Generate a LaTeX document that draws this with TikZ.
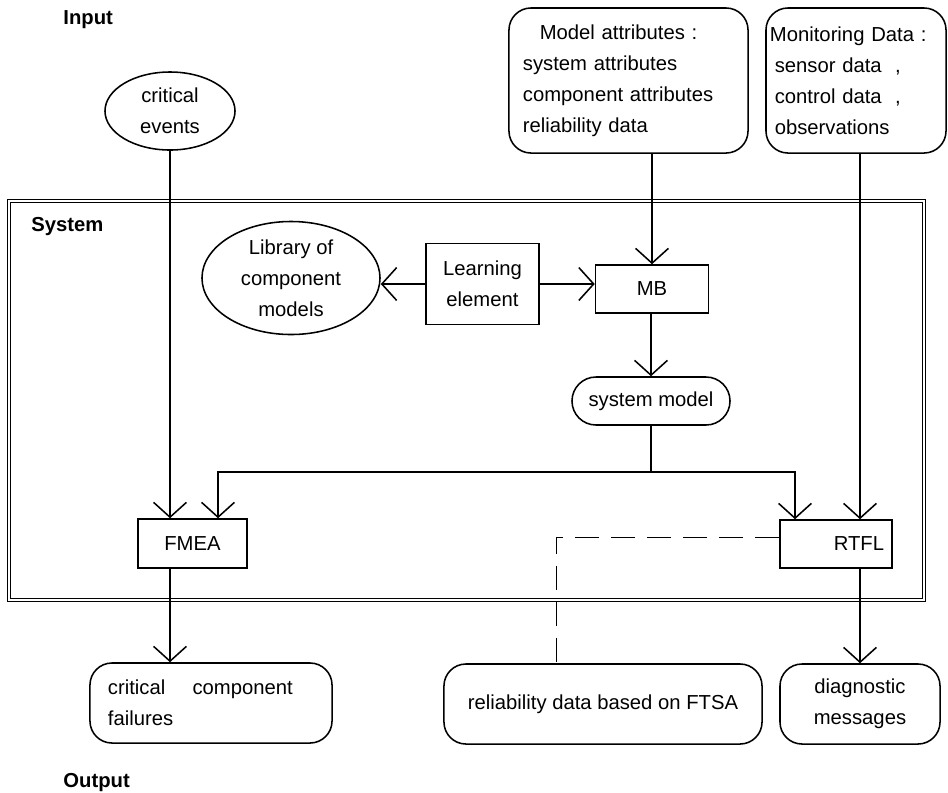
\documentclass[tikz,border=0pt]{standalone}
\usepackage{fontspec}
\setmainfont{Liberation Sans}
\usetikzlibrary{arrows.meta,shapes.geometric}

\tikzset{
  arr/.style={-{Straight Barb[length=0.37cm,width=0.82cm,line width=1.1pt]}},
  blk/.style={draw,rectangle,inner sep=0pt},
  oval/.style={draw,ellipse,inner sep=0pt,align=center},
  rbox/.style={draw,rectangle,rounded corners=0.55cm,inner sep=0pt},
  title/.style={font=\fontsize{14.4}{22}\selectfont\bfseries,anchor=west},
  dashpat/.style={dash pattern=on 0.6cm off 0.3cm,line width=0.6pt}
}

\begin{document}
\begin{tikzpicture}[x=0.025cm,y=-0.025cm,line width=1.1pt,font=\fontsize{14.4}{22}\selectfont]
\useasboundingbox (0,0) rectangle (948,792);
% labels
\node[title] (inp) at (58,20) {Input};
\node[title] (outp) at (58,783) {Output};
% system frame
\draw[line width=1pt,double distance=1.1pt] (9,201) rectangle (924,600);
\node[title] (sys) at (26,227) {System};
% inputs
\node[oval,minimum width=3.25cm,minimum height=1.95cm] (crit) at (170,111) {critical\\events};
\node[rbox,minimum height=3.625cm,text width=5.275cm,inner xsep=0.35cm,align=left] (model) at (628.5,80.5)
  {\hspace*{0.42cm}Model attributes :\\system attributes\\component attributes\\reliability data};
\node[rbox,minimum height=3.625cm,text width=4.3cm,inner xsep=0.1cm,align=left] (mon) at (856,80.5)
  {Monitoring Data :\\\hspace*{0.12cm}sensor data\ \ ,\\\hspace*{0.12cm}control data\ \ ,\\\hspace*{0.12cm}observations};
% system
\node[oval,minimum width=4.45cm,minimum height=2.825cm] (lib) at (291,278) {Library of\\component\\models};
\node[blk,minimum width=2.825cm,minimum height=2.025cm,align=center] (learn) at (482.5,284) {Learning\\element};
\node[blk,minimum width=2.825cm,minimum height=1.2cm] (mb) at (652,289) {MB};
\node[rbox,rounded corners=0.6cm,minimum width=3.95cm,minimum height=1.2cm] (sysm) at (651,401) {system model};
\node[blk,minimum width=2.725cm,minimum height=1.225cm] (fmea) at (192.5,543.5) {FMEA};
\node[blk,minimum width=2.8cm,minimum height=1.2cm,text width=2.4cm,align=right] (rtfl) at (836,544) {RTFL\hspace*{0.2cm}};
% outputs
\node[rbox,minimum height=2cm,text width=5.15cm,inner xsep=0.45cm,align=left] (crcomp) at (211,703)
  {critical\hspace{0.68cm}component\\failures};
\node[rbox,minimum width=7.95cm,minimum height=2cm] (rel) at (603,704) {reliability data based on FTSA};
\node[rbox,minimum width=4cm,minimum height=2cm,align=center] (diag) at (860,704) {diagnostic\\messages};
% connections
\coordinate (split) at (651,472);
\coordinate (fa) at (218,472);
\coordinate (ra) at (795,472);
\coordinate (dk) at (556,537);
\draw[arr] (crit.south) -- (crit.south |- fmea.north);
\draw[arr] (model.south -| mb.north) -- (mb.north);
\draw[arr] (mon.south -| diag.north) -- (rtfl.north -| diag.north);
\draw[arr] (learn.west) -- (learn.west -| lib.east);
\draw[arr] (learn.east) -- (learn.east -| mb.west);
\draw[arr] (mb.south -| sysm.north) -- (sysm.north);
\draw (sysm.south) -- (split);
\draw[arr] (split) -- (fa) -- (fa |- fmea.north);
\draw[arr] (split) -- (ra) -- (ra |- rtfl.north);
\draw[dashpat] (dk -| rtfl.west) -- (dk) -- (dk |- rel.north);
\draw[arr] (fmea.south -| crit.south) -- (crcomp.north -| crit.south);
\draw[arr] (rtfl.south -| diag.north) -- (diag.north);
\end{tikzpicture}
\end{document}
